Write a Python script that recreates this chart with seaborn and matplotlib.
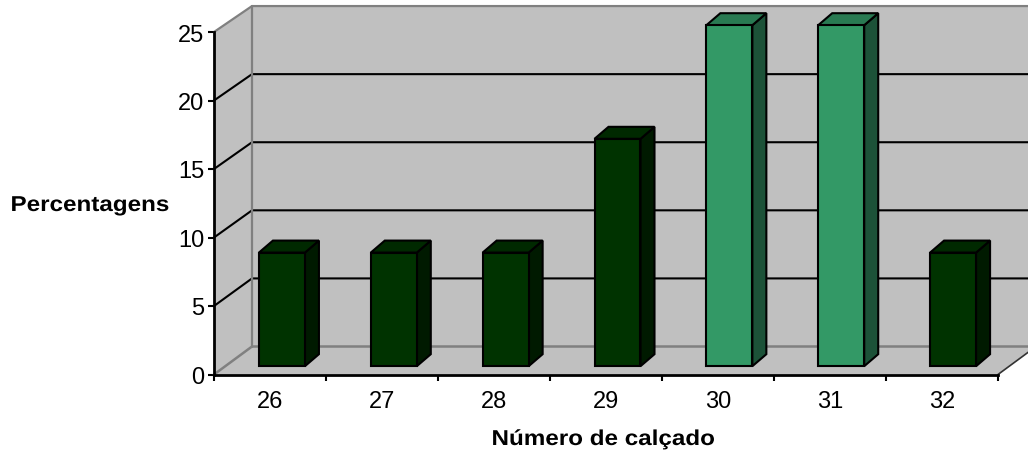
import numpy as np
import pandas as pd
import matplotlib
matplotlib.use("Agg")
import matplotlib.pyplot as plt
from matplotlib.patheffects import AbstractPathEffect
from matplotlib.transforms import Affine2D
import seaborn as sns

# Shoe size distribution
sizes = ["26", "27", "28", "29", "30", "31", "32"]
percentages = [8.33, 8.33, 8.33, 16.67, 25, 25, 8.33]
y_ticks = [0, 5, 10, 15, 20, 25]
x_title = "Número de calçado"
y_title = "Percentagens"

FRONT = {"26": "#003300", "27": "#003300", "28": "#003300", "29": "#003300",
         "30": "#339966", "31": "#339966", "32": "#003300"}
SIDE = {"#003300": "#001a00", "#339966": "#1c5238"}
TOP = {"#003300": "#002900", "#339966": "#297a52"}
WALL = "#c0c0c0"
WALL_EDGE = "#808080"

W, H = 1028, 452
sns.set_theme(style="white")
plt.rcParams["font.family"] = ["Liberation Sans", "DejaVu Sans"]

fig = plt.figure(figsize=(W / 100, H / 100), dpi=100, facecolor="white")


class WideText(AbstractPathEffect):
    """Widens a text horizontally from its origin, for the spaced-out axis titles."""

    def __init__(self, factor):
        super().__init__()
        self.factor = factor

    def draw_path(self, renderer, gc, tpath, affine, rgbFace=None):
        renderer.draw_path(gc, tpath, Affine2D().scale(self.factor, 1) + affine, rgbFace)


def axes_from_pixels(left, right, top, bottom):
    return fig.add_axes([left / W, (H - bottom) / H, (right - left) / W, (bottom - top) / H])


# Chart box: side wall, floor and back wall sit behind the bars
box = axes_from_pixels(214, 998, 33, 375.5)
box.set_xlim(-0.5, 6.5)
box.set_ylim(0, 25)
box.patch.set_alpha(0)
dx, dy = 38 / 112, 28 / 13.7
back_scale = 0.994
x0, x1 = -0.5, 6.5
top = y_ticks[-1]
top_back = dy + top * back_scale
wall = dict(color=WALL, lw=0, clip_on=False, zorder=1)
box.fill([x0 + dx, x1 + dx, x1 + dx, x0 + dx], [dy, dy, top_back, top_back], **wall)
box.fill([x0, x0 + dx, x0 + dx, x0], [0, dy, top_back, top], **wall)
box.fill([x0, x1, x1 + dx, x0 + dx], [0, 0, dy, dy], **wall)
for v in y_ticks[1:-1]:
    back = dy + v * back_scale
    box.plot([x0, x0 + dx, x1 + dx], [v, back, back], color="black", lw=1.5, clip_on=False, zorder=2)
box.plot([x0, x0 + dx, x1 + dx], [top, top_back, top_back], color=WALL_EDGE, lw=1.6, clip_on=False, zorder=2)
box.plot([x0, x0 + dx, x1 + dx], [0, dy, dy], color=WALL_EDGE, lw=1.8, clip_on=False, zorder=2)
box.plot([x0 + dx, x0 + dx], [dy, top_back], color=WALL_EDGE, lw=1.6, clip_on=False, zorder=2)
box.plot([x1, x1 + dx], [0, dy], color="#333333", lw=1.2, clip_on=False, zorder=2)

box.set_yticks(y_ticks)
box.set_xticks(range(len(sizes)))
box.set_xticklabels(sizes)
box.set_xticks(np.arange(-0.5, 7), minor=True)
box.tick_params(axis="x", which="major", length=0, pad=11, labelsize=17, labelcolor="black")
box.tick_params(axis="x", which="minor", length=4, width=1.5, color="black", bottom=True)
box.tick_params(axis="y", length=4, width=1.5, color="black", left=True, pad=3, labelsize=17, labelcolor="black")
sns.despine(ax=box, top=True, right=True)
for side in ("left", "bottom"):
    box.spines[side].set_color("black")
    box.spines[side].set_linewidth(2)
    box.spines[side].set_zorder(3)

# Axis titles, anchored by their left end and baseline
box.set_xlabel(x_title, fontsize=15.5, fontweight="bold", color="black", ha="left", va="baseline")
box.xaxis.set_label_coords((491.5 - 214) / 784, -(446 - 375.5) / 342.5, transform=box.transAxes)
box.xaxis.label.set_path_effects([WideText(1.125)])
box.set_ylabel(y_title, fontsize=15.5, fontweight="bold", color="black", rotation=0, ha="left", va="baseline")
box.yaxis.set_label_coords((10.5 - 214) / 784, (375.5 - 212) / 342.5, transform=box.transAxes)
box.yaxis.label.set_path_effects([WideText(1.125)])

# Bars with their own axes, set forward from the axis line as in a 3-D column chart
ax = axes_from_pixels(226, 1009, 26.2, 367.2)
ax.patch.set_alpha(0)
df = pd.DataFrame({"size": sizes, "pct": percentages})
bar_w = 46 / 111.86
sns.barplot(data=df, x="size", y="pct", hue="size", palette=FRONT, legend=False, dodge=False,
            width=bar_w, edgecolor="black", linewidth=1.5, saturation=1, ax=ax, zorder=4)
ax.set_xlim(-0.5, 6.5)
ax.set_ylim(0, 25)
ax.axis("off")

bx, by = 14 / 111.86, 12 / 13.64
for i, (size, v) in enumerate(zip(sizes, percentages)):
    l, r = i - bar_w / 2, i + bar_w / 2
    c = FRONT[size]
    ax.fill([r, r + bx, r + bx, r], [0, by, v + by, v], facecolor=SIDE[c], edgecolor="black",
            lw=1.5, clip_on=False, zorder=3)
    ax.fill([l, r, r + bx, l + bx], [v, v, v + by, v + by], facecolor=TOP[c], edgecolor="black",
            lw=1.5, clip_on=False, zorder=3)
for p in ax.patches:
    p.set_clip_on(False)

fig.savefig("out.png", dpi=100, facecolor="white")
